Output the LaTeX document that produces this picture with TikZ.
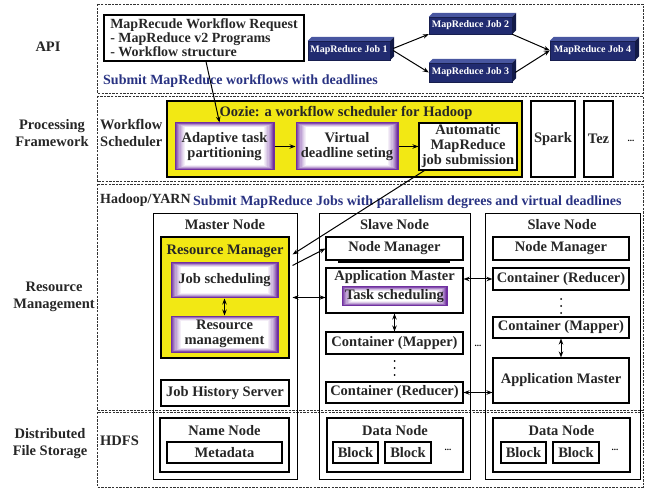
\documentclass[tikz,border=0pt]{standalone}
\usepackage{fontspec}
\setmainfont{Liberation Serif}
\usetikzlibrary{arrows.meta,calc}
\definecolor{navy}{RGB}{33,43,112}
\definecolor{navytop}{RGB}{72,86,160}
\definecolor{navyside}{RGB}{18,26,72}
\definecolor{subblue}{RGB}{40,50,130}
\definecolor{ozyellow}{RGB}{242,232,20}
\definecolor{glowpurple}{RGB}{112,48,160}
\newcommand\myfs{\bfseries\fontsize{14.5}{15}\selectfont}
\newcommand\subfs{\bfseries\fontsize{14}{15}\selectfont}
\newcommand\jobfs{\bfseries\fontsize{10}{12}\selectfont}
% \bx{style}{name}{x1}{y1}{x2}{y2}{text}
\newcommand\bx[7]{%
  \pgfmathsetmacro\bxw{#5-#3}\pgfmathsetmacro\bxh{#6-#4}%
  \pgfmathsetmacro\bxcx{(#3+#5)/2}\pgfmathsetmacro\bxcy{(#4+#6)/2}%
  \node[#1, minimum width=\bxw pt, minimum height=\bxh pt] (#2) at (\bxcx,\bxcy) {#7};}
\tikzset{
  lay/.style={draw=black!80, line width=0.9pt, dash pattern=on 2.4pt off 1.2pt},
  box/.style={draw=black, line width=1.1pt, inner sep=0pt, font=\myfs, align=center, text=black!85},
  wbox/.style={box, fill=white},
  ybox/.style={box, fill=ozyellow},
  glow/.style={box, draw=glowpurple, line width=1pt, path picture={
      \foreach \i/\c in {0/100,1/85,2/70,3/56,4/44,5/33,6/23,7/15,8/8,9/0}{
        \fill[glowpurple!\c!white] ([shift={(\i*1.1pt,-\i*0.5pt)}]path picture bounding box.north west)
          rectangle ([shift={(-\i*1.1pt,\i*0.5pt)}]path picture bounding box.south east);
      }}},
  txt/.style={font=\myfs, inner sep=0pt, align=center, text=black!85},
  job/.style={fill=navy, draw=navy!70!black, line width=0.4pt, text=white, font=\jobfs, inner sep=0pt},
  arr/.style={line width=1pt, -{Stealth[length=6pt,width=4.5pt]}},
  darr/.style={line width=1pt, {Stealth[length=6pt,width=4.5pt]}-{Stealth[length=6pt,width=4.5pt]}},
  dotsty/.style={font=\bfseries\fontsize{9}{10}\selectfont, inner sep=0pt},
}
\begin{document}
\begin{tikzpicture}[x=1pt,y=-1pt]
\useasboundingbox (0,0) rectangle (651,489);

% layer boxes
\draw[lay] (97,4) rectangle (643,93);
\draw[lay] (97,96) rectangle (643,181);
\draw[lay] (97,184) rectangle (643,410);
\draw[lay] (97,412) rectangle (643,487);

% left labels
\node[txt] (lapi) at (48,47) {API};
\node[txt, font=\bfseries\fontsize{14.5}{17}\selectfont] (lproc) at (52,133) {Processing\\Framework};
\node[txt, font=\bfseries\fontsize{14.5}{17}\selectfont] (lres) at (54,297) {Resource\\Management};
\node[txt, font=\bfseries\fontsize{14.5}{17}\selectfont] (ldfs) at (50,444) {Distributed\\File Storage};
\node[txt, font=\bfseries\fontsize{14.5}{17}\selectfont, align=left, anchor=west] (lwf) at (100,133) {Workflow\\Scheduler};
\node[txt, anchor=west] (lhdfs) at (100,441) {HDFS};
\node[txt, anchor=west, font=\subfs] (lyarn) at (100,200) {Hadoop/YARN};

% API layer
\bx{box, align=left, font=\bfseries\fontsize{14}{14}\selectfont}{req}{104}{15}{304}{61}
  {MapRecude Workflow Request\\- MapReduce v2 Programs\\- Workflow structure}
\node[txt, anchor=west, text=subblue, font=\subfs] (sub1) at (103,81) {Submit MapReduce workflows with deadlines};

\bx{job}{j1}{308}{41}{390}{60}{MapReduce Job 1}
\bx{job}{j2}{429}{17}{512}{34}{MapReduce Job 2}
\bx{job}{j3}{429}{63}{512}{82}{MapReduce Job 3}
\bx{job}{j4}{550}{41}{635}{60}{MapReduce Job 4}
\foreach \n in {j1,j2,j3,j4}{
  \fill[navytop] (\n.north west) -- ++(4pt,4pt) -- ([shift={(4pt,4pt)}]\n.north east) -- (\n.north east) -- cycle;
  \fill[navyside] (\n.north east) -- ++(4pt,4pt) -- ([shift={(4pt,4pt)}]\n.south east) -- (\n.south east) -- cycle;
}
\draw[arr] ([xshift=3pt,yshift=2pt]j1.east) -- (j2.south west);
\draw[arr] ([xshift=3pt]j1.east) -- (j3.west);
\draw[arr] (j2.south east) -- (j4.west);
\draw[arr] ([xshift=3pt]j3.east) -- (j4.west);

% Processing layer
\bx{ybox}{oozie}{167}{101}{522}{177}{}
\node[txt] (ooziet) at (346,113) {Oozie: a workflow scheduler for Hadoop};
\bx{glow}{ad}{175}{123}{274}{170}{Adaptive task\\partitioning}
\bx{glow}{vd}{296}{123}{398}{170}{Virtual\\deadline seting}
\bx{wbox}{au}{419}{123}{517}{170}{Automatic\\MapReduce\\job submission}
\bx{box}{spark}{531}{101}{575}{177}{Spark}
\bx{box}{tez}{584}{101}{613}{177}{Tez}
\node[dotsty] (pdots) at (631,141) {...};
\draw[arr] (ad.east) -- (vd.west);
\draw[arr] (vd.east) -- (au.west);
\draw[arr] ([xshift=2pt]req.south) -- ([xshift=-5pt]ad.north);

% Resource management layer
\node[txt, anchor=west, text=subblue, font=\subfs] (sub2) at (193,202) {Submit MapReduce Jobs with parallelism degrees and virtual deadlines};

\bx{box, line width=1pt}{master}{153}{214}{297}{479}{}
\bx{box, line width=1pt}{slave1}{319}{214}{470}{479}{}
\bx{box, line width=1pt}{slave2}{485}{214}{640}{479}{}
\node[txt] (mastert) at (225,225) {Master Node};
\node[txt] (slave1t) at (394.5,225) {Slave Node};
\node[txt] (slave2t) at (562,225) {Slave Node};

\bx{ybox}{rm}{161}{237}{289}{358}{}
\node[txt] (rmt) at (225,251) {Resource Manager};
\bx{glow}{js}{171}{263}{278}{298}{Job scheduling}
\bx{glow}{rmg}{171}{316}{278}{352}{Resource\\management}
\bx{box}{jh}{161}{380}{289}{406}{Job History Server}
\draw[darr] (js.south) -- (rmg.north);

\bx{box}{nm1}{326}{237}{463}{260}{Node Manager}
\draw[line width=1.3pt] (338,262) -- (450,262);
\bx{box}{am1}{326}{268}{463}{313}{}
\node[txt] (am1t) at (394.5,277) {Application Master};
\bx{glow}{ts}{342}{287}{447}{306}{Task scheduling}
\bx{box}{cm1}{326}{332}{463}{354}{Container (Mapper)}
\bx{box}{cr1}{326}{382}{463}{403}{Container (Reducer)}
\draw[darr] (am1.south) -- (cm1.north);
\foreach \yy in {361,368,375} \fill (394.5,\yy) circle (1pt);

\bx{box}{nm2}{493}{237}{629}{260}{Node Manager}
\bx{box}{cr2}{493}{268}{629}{290}{Container (Reducer)}
\bx{box}{cm2}{493}{317}{629}{338}{Container (Mapper)}
\bx{box}{am2}{493}{358}{629}{403}{Application Master}
\draw[darr] (cm2.south) -- (am2.north);
\foreach \yy in {299,306,313} \fill (561,\yy) circle (1pt);

\node[dotsty] (sdots) at (478,346) {...};

\draw[darr] (am1.east |- cr2.west) -- (cr2.west);
\draw[darr] (cr1.east) -- (am2.west |- cr1.east);
\draw[darr] ([xshift=3pt]rm.east) -- (am1.west |- rm.east);
\draw[arr] ($(rm.north east)+(3pt,-29pt)$) -- (nm1.west);
\draw[arr] ([xshift=6pt]au.south west) -- ($(rm.north east)+(3pt,-18pt)$);

% HDFS layer
\bx{box}{nn}{160}{418}{289}{472}{}
\node[txt] (nnt) at (224.5,431) {Name Node};
\bx{box}{md}{167}{442}{282}{463}{Metadata}

\bx{box}{dn1}{327}{418}{463}{472}{}
\node[txt] (dn1t) at (395,431) {Data Node};
\bx{box}{b11}{333}{442}{378}{463}{Block}
\bx{box}{b12}{385}{442}{431}{463}{Block}
\node[dotsty] (d1dots) at (448,450) {...};

\bx{box}{dn2}{493}{418}{630}{472}{}
\node[txt] (dn2t) at (561.5,431) {Data Node};
\bx{box}{b21}{501}{442}{546}{463}{Block}
\bx{box}{b22}{553}{442}{599}{463}{Block}
\node[dotsty] (d2dots) at (615,450) {...};
\end{tikzpicture}
\end{document}
